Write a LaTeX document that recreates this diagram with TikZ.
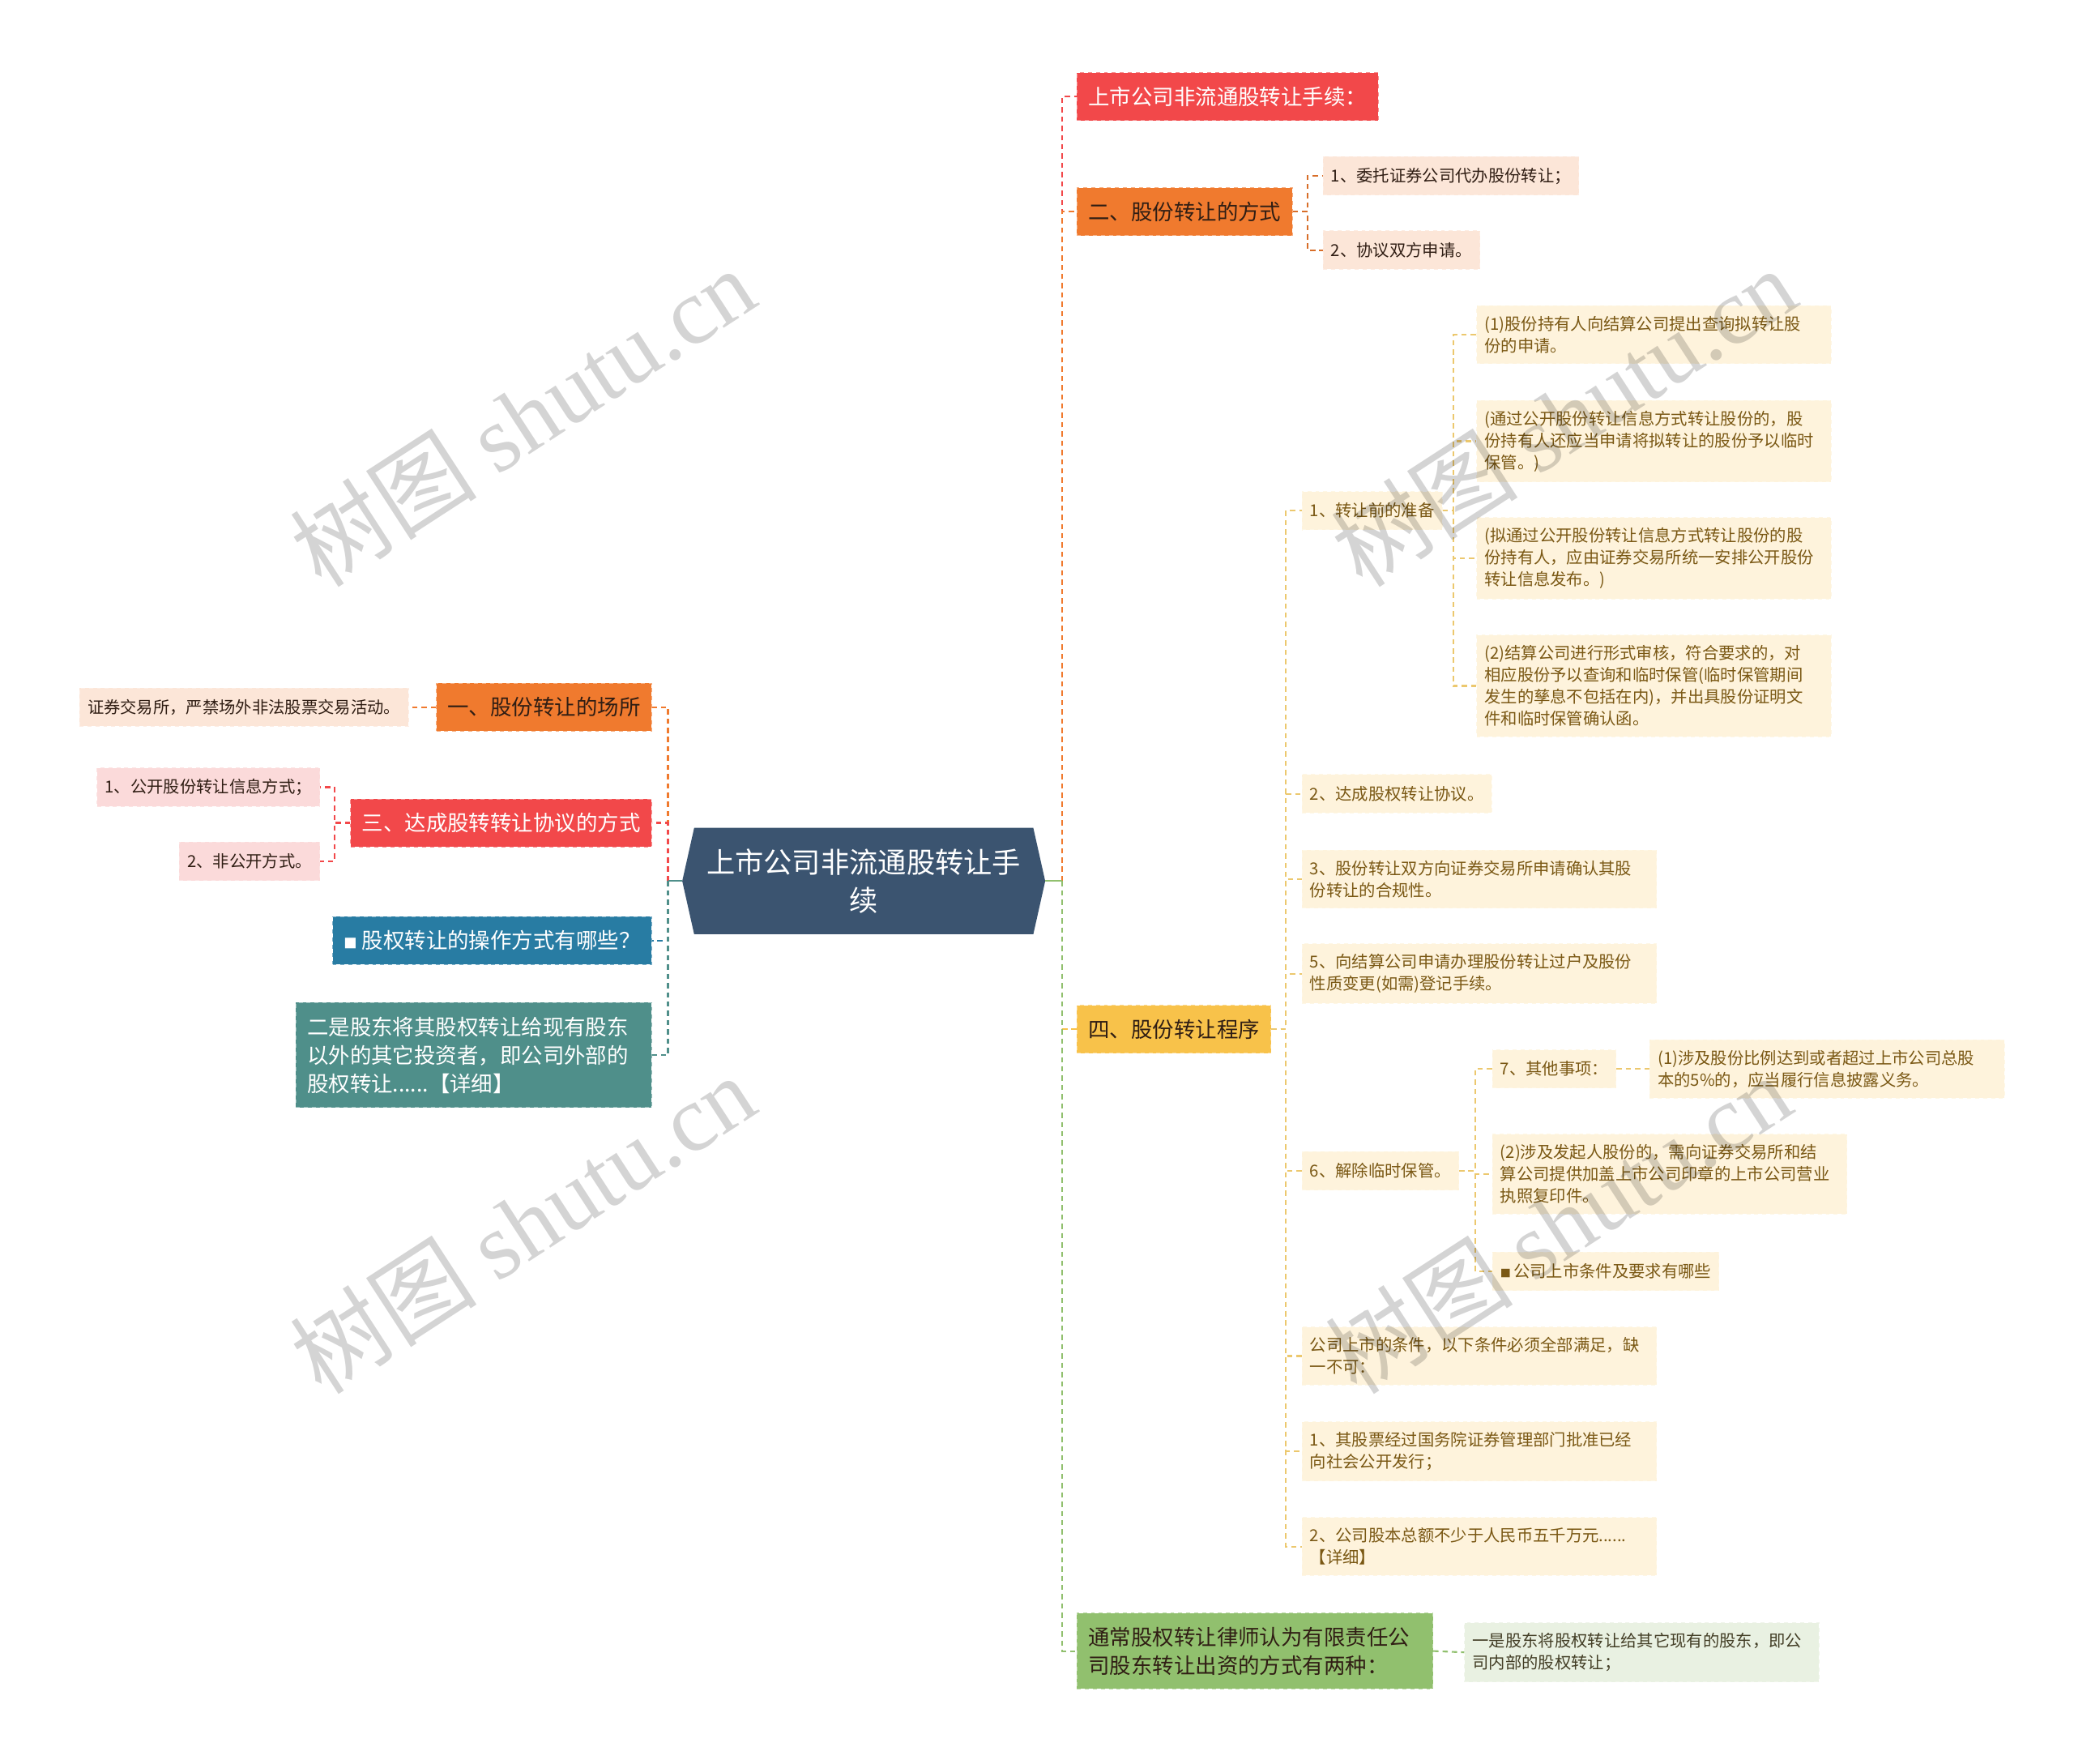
\documentclass[tikz,border=0pt]{standalone}
\usepackage{fontspec}
\setmainfont{Noto Sans CJK SC}
\newfontfamily\wmfont{Liberation Serif}
\usetikzlibrary{backgrounds}
\definecolor{hubblue}{RGB}{59,84,112}
\definecolor{cred}{RGB}{242,72,74}
\definecolor{corange}{RGB}{240,122,46}
\definecolor{cyellow}{RGB}{248,194,74}
\definecolor{cgreen}{RGB}{145,192,110}
\definecolor{cblue}{RGB}{40,124,163}
\definecolor{cteal}{RGB}{79,143,138}
\definecolor{cdark}{RGB}{48,30,20}
\definecolor{peach}{RGB}{252,230,216}
\definecolor{pink}{RGB}{251,218,218}
\definecolor{cream}{RGB}{254,243,220}
\definecolor{palegreen}{RGB}{233,241,226}
\definecolor{creamtext}{RGB}{122,88,20}
\definecolor{creamline}{RGB}{236,200,110}

\begin{document}
\begin{tikzpicture}[x=1pt, y=-1pt,
    box/.style={rectangle, align=left, dashed, line width=0.6pt},
    major/.style={box, inner xsep=8.5pt, inner ysep=10.5pt, font=\fontsize{16.2}{21.5}\selectfont},
    leaf/.style={box, inner xsep=6pt, inner ysep=7.8pt, minimum height=29pt, font=\fontsize{12.45}{16.5}\selectfont},
    wide/.style={text width=256pt},
    redbox/.style={major, fill=cred, draw=cred!60!white, text=white},
    orangebox/.style={major, fill=corange, draw=corange!60!white, text=cdark},
    yellowbox/.style={major, fill=cyellow, draw=cyellow!60!white, text=cdark},
    greenbox/.style={major, fill=cgreen, draw=cgreen!60!white, text=cdark},
    bluebox/.style={major, fill=cblue, draw=cblue!60!white, text=white},
    tealbox/.style={major, fill=cteal, draw=cteal!60!white, text=white},
    peachleaf/.style={leaf, fill=peach, draw=peach!70!white, text=cdark},
    pinkleaf/.style={leaf, fill=pink, draw=pink!70!white, text=cdark},
    creamleaf/.style={leaf, fill=cream, draw=cream!70!white, text=creamtext},
    greenleaf/.style={leaf, fill=palegreen, draw=palegreen!70!white, text=cdark!80!cgreen},
    link/.style={dash pattern=on 4pt off 3pt, line width=1.3pt},
    stub/.style={line width=1.3pt},
    wmark/.style={rotate=33, text=black, text opacity=0.17, font=\fontsize{71}{71}\selectfont}
  ]
\useasboundingbox (0,0) rectangle (1568,1333);

\node[align=center, text=white, minimum width=274pt, minimum height=80pt, inner sep=0pt, font=\fontsize{21.6}{29}\selectfont] (hub) at (653,666) {上市公司非流通股转让手\\续};
\begin{scope}[on background layer]
  \fill[white] (0,0) rectangle (1568,1333);
  \fill[hubblue] (hub.west) -- ([xshift=9pt]hub.north west) -- ([xshift=-9pt]hub.north east) -- (hub.east) -- ([xshift=-9pt]hub.south east) -- ([xshift=9pt]hub.south west) -- cycle;
\end{scope}
\coordinate (rtrunk) at (803,666);
\coordinate (ltrunk) at (505,666);

\node[redbox, anchor=west] (top) at (814,73) {上市公司非流通股转让手续：};
\node[orangebox, anchor=west] (two) at (814,160) {二、股份转让的方式};
\node[peachleaf, anchor=west] (w1) at (1000,133) {1、委托证券公司代办股份转让；};
\node[peachleaf, anchor=west] (w2) at (1000,189) {2、协议双方申请。};

\node[yellowbox, anchor=west] (four) at (814,778) {四、股份转让程序};
\node[creamleaf, anchor=west] (p1) at (984,386) {1、转让前的准备};
\node[creamleaf, wide, anchor=west] (p1a) at (1116,253) {(1)股份持有人向结算公司提出查询拟转让股\\份的申请。};
\node[creamleaf, wide, anchor=west] (p1b) at (1116,333.5) {(通过公开股份转让信息方式转让股份的，股\\份持有人还应当申请将拟转让的股份予以临时\\保管。)};
\node[creamleaf, wide, anchor=west] (p1c) at (1116,422) {(拟通过公开股份转让信息方式转让股份的股\\份持有人，应由证券交易所统一安排公开股份\\转让信息发布。)};
\node[creamleaf, wide, anchor=west] (p1d) at (1116,518.5) {(2)结算公司进行形式审核，符合要求的，对\\相应股份予以查询和临时保管(临时保管期间\\发生的孳息不包括在内)，并出具股份证明文\\件和临时保管确认函。};
\node[creamleaf, anchor=west] (p2) at (984,600) {2、达成股权转让协议。};
\node[creamleaf, wide, anchor=west] (p3) at (984,664.5) {3、股份转让双方向证券交易所申请确认其股\\份转让的合规性。};
\node[creamleaf, wide, anchor=west] (p5) at (984,736) {5、向结算公司申请办理股份转让过户及股份\\性质变更(如需)登记手续。};
\node[creamleaf, anchor=west] (p6) at (984,885) {6、解除临时保管。};
\node[creamleaf, anchor=west] (p6a) at (1128,808) {7、其他事项：};
\node[creamleaf, wide, anchor=west] (p6aa) at (1247,808) {(1)涉及股份比例达到或者超过上市公司总股\\本的5\%的，应当履行信息披露义务。};
\node[creamleaf, wide, anchor=west] (p6b) at (1128,887.5) {(2)涉及发起人股份的，需向证券交易所和结\\算公司提供加盖上市公司印章的上市公司营业\\执照复印件。};
\node[creamleaf, anchor=west] (p6c) at (1128,961) {{\fontsize{8}{8}\selectfont ■}\hspace{2pt}公司上市条件及要求有哪些};
\node[creamleaf, wide, anchor=west] (p7) at (984,1025) {公司上市的条件，以下条件必须全部满足，缺\\一不可：};
\node[creamleaf, wide, anchor=west] (p8) at (984,1097) {1、其股票经过国务院证券管理部门批准已经\\向社会公开发行；};
\node[creamleaf, wide, anchor=west] (p9) at (984,1169) {2、公司股本总额不少于人民币五千万元......\\【详细】};

\node[greenbox, text width=252pt, anchor=west] (five) at (814,1248) {通常股权转让律师认为有限责任公\\司股东转让出资的方式有两种：};
\node[greenleaf, wide, anchor=west] (g1) at (1107,1249) {一是股东将股权转让给其它现有的股东，即公\\司内部的股权转让；};

\node[orangebox, anchor=east] (one) at (493,534.5) {一、股份转让的场所};
\node[peachleaf, anchor=east] (l1) at (309,534.5) {证券交易所，严禁场外非法股票交易活动。};
\node[redbox, anchor=east] (three) at (493,622) {三、达成股转转让协议的方式};
\node[pinkleaf, anchor=east] (t1) at (242,595) {1、公开股份转让信息方式；};
\node[pinkleaf, anchor=east] (t2) at (242,651) {2、非公开方式。};
\node[bluebox, anchor=east] (blue) at (493,711) {{\fontsize{10}{10}\selectfont ■} 股权转让的操作方式有哪些？};
\node[tealbox, text width=252pt, anchor=east] (teal) at (493,797.5) {二是股东将其股权转让给现有股东\\以外的其它投资者，即公司外部的\\股权转让......【详细】};

\draw[link, cred] (rtrunk) |- (top.west);
\draw[link, corange] (rtrunk) |- (two.west);
\draw[link, cyellow] (rtrunk) |- (four.west);
\draw[link, cgreen] (rtrunk) |- (five.west);
\draw[stub, cgreen] (hub.east) -- (rtrunk);
\draw[link, corange] (ltrunk) |- (one.east);
\draw[link, cred] (ltrunk) |- (three.east);
\draw[link, cblue] (ltrunk) |- (blue.east);
\draw[link, cteal] (ltrunk) |- (teal.east);
\draw[stub, cteal] (hub.west) -- (ltrunk);

\foreach \k in {w1,w2} \draw[link, corange!90!black] (two.east) -- ([xshift=11pt]two.east) |- (\k.west);
\foreach \k in {p1,p2,p3,p5,p6,p7,p8,p9} \draw[link, creamline] (four.east) -- ([xshift=11pt]four.east) |- (\k.west);
\foreach \k in {p1a,p1b,p1c,p1d} \draw[link, creamline] (p1.east) -- ([xshift=8pt]p1.east) |- (\k.west);
\foreach \k in {p6a,p6b,p6c} \draw[link, creamline] (p6.east) -- ([xshift=12pt]p6.east) |- (\k.west);
\draw[link, creamline] (p6a.east) -- (p6aa.west);
\draw[link, corange] (one.west) -- (l1.east);
\foreach \k in {t1,t2} \draw[link, cred] (three.west) -- ([xshift=-12pt]three.west) |- (\k.east);
\draw[link, cgreen] (five.east) -- (g1.west);

\foreach \wx/\wy [count=\i] in {395/315, 395/925, 1182/315, 1178/925}
  \node[wmark] (wm\i) at (\wx,\wy) {树图 {\wmfont shutu.cn}};
\end{tikzpicture}
\end{document}
